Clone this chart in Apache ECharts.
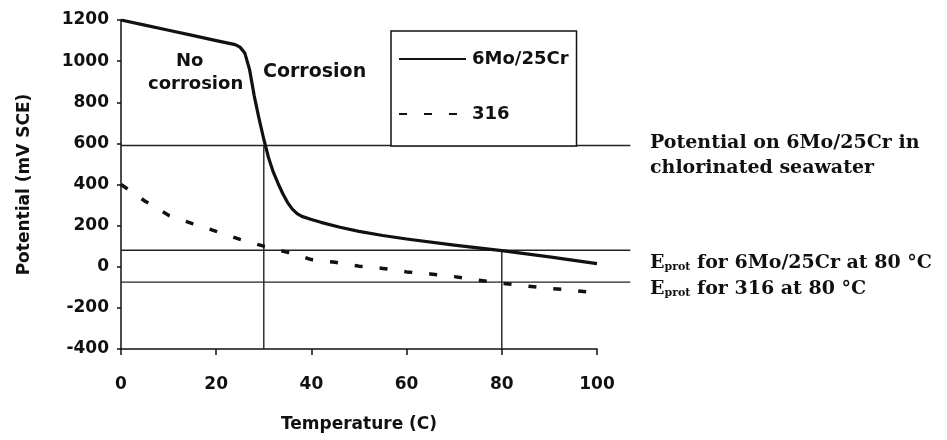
<!DOCTYPE html>
<html>
<head>
<meta charset="utf-8">
<script src="https://cdn.jsdelivr.net/npm/echarts@6/dist/echarts.min.js"></script>
<style>
html,body{margin:0;padding:0;background:#fff;}
#chart{width:947px;height:440px;}
</style>
</head>
<body>
<div id="chart"></div>
<script>
// ---- data ----
const temp6Mo = [0, 5, 10, 15, 20, 24, 25, 26, 27, 28, 29, 30, 31, 32, 33, 34, 35, 36, 37, 38, 40, 42, 46, 50, 55, 60, 70, 80, 90, 100];
const pot6Mo  = [1200, 1175, 1150, 1125, 1100, 1080, 1068, 1040, 960, 830, 720, 620, 530, 460, 405, 355, 312, 280, 258, 245, 230, 216, 192, 172, 152, 135, 105, 78, 48, 15];

const temp316 = [0, 5, 10, 15, 20, 25, 30, 35, 40, 45, 50, 55, 60, 65, 70, 75, 80, 85, 90, 95, 100];
const pot316  = [400, 320, 250, 210, 172, 133, 100, 70, 35, 22, 3, -8, -25, -35, -48, -65, -80, -93, -105, -115, -127];

// horizontal reference levels (mV): seawater potential, Eprot 6Mo/25Cr, Eprot 316
const refLevels = [590, 80, -75];
const refLineStartT = 0;
const refLineEndT = 107;
// vertical reference lines: [temperature, top potential]
const vRefTemps = [30, 80];
const vRefTops = [590, 80];

const xTickValues = [0, 20, 40, 60, 80, 100];
const yTickValues = [-400, -200, 0, 200, 400, 600, 800, 1000, 1200];

const seriesNames = ['6Mo/25Cr', '316'];
const xTitle = 'Temperature (C)';
const yTitle = 'Potential (mV SCE)';

// ---- chart ----
const SANS = '"DejaVu Sans", sans-serif';
const SERIF = '"DejaVu Serif", serif';
const chart = echarts.init(document.getElementById('chart'), null, {renderer: 'canvas'});

const zip = (a, b) => a.map((v, i) => [v, b[i]]);
const refColor = '#222';

const refSeries = [];
vRefTemps.forEach((t, i) => {
  refSeries.push({
    type: 'line', silent: true, clip: false, symbol: 'none', z: 1,
    data: [[t, yTickValues[0]], [t, vRefTops[i]]],
    lineStyle: {color: refColor, width: 1.4}
  });
});

const richE = {
  e: {fontFamily: SERIF, fontWeight: 'bold', fontSize: 19, lineHeight: 24, verticalAlign: 'bottom', fill: '#111'},
  s: {fontFamily: SERIF, fontWeight: 'bold', fontSize: 11, lineHeight: 24, verticalAlign: 'bottom', fill: '#111'}
};

const textGraphics = [
  {type: 'text', left: 176, top: 52, style: {text: 'No', fill: '#111', font: 'bold 18px ' + SANS}},
  {type: 'text', left: 148, top: 75, style: {text: 'corrosion', fill: '#111', font: 'bold 18px ' + SANS}},
  {type: 'text', left: 263, top: 63, style: {text: 'Corrosion', fill: '#111', font: 'bold 19px ' + SANS}},
  {type: 'text', left: 650, top: 131, style: {text: 'Potential on 6Mo/25Cr in\nchlorinated seawater', fill: '#111', font: 'bold 19px ' + SERIF, lineHeight: 25}},
  {type: 'text', left: 650, top: 254, style: {text: '{e|E}{s|prot}{e| for 6Mo/25Cr at 80 °C}', fill: '#111', rich: richE}},
  {type: 'text', left: 650, top: 280, style: {text: '{e|E}{s|prot}{e| for 316 at 80 °C}', fill: '#111', rich: richE}}
];

const option = {
  backgroundColor: '#fff',
  animation: false,
  grid: {left: 121, right: 350, top: 20, bottom: 91, containLabel: false},
  legend: {
    data: seriesNames,
    orient: 'vertical',
    left: 391, top: 31,
    itemWidth: 67, itemHeight: 14, itemGap: 37,
    padding: [19, 8, 23, 7],
    borderColor: '#111', borderWidth: 1.5,
    backgroundColor: '#fff',
    itemStyle: {opacity: 0},
    textStyle: {fontFamily: SANS, fontWeight: 'bold', fontSize: 18, color: '#111', padding: [0, 0, 0, 1]},
    selectedMode: false,
    z: 10
  },
  xAxis: {
    type: 'value', min: 0, max: 100, interval: 20,
    name: xTitle, nameLocation: 'middle', nameGap: 67,
    nameTextStyle: {fontFamily: SANS, fontWeight: 'bold', fontSize: 17, color: '#111'},
    axisLine: {show: true, onZero: false, lineStyle: {color: '#111', width: 1.5}},
    axisTick: {show: true, inside: false, length: 6, lineStyle: {color: '#111', width: 1.5}},
    axisLabel: {fontFamily: SANS, fontWeight: 'bold', fontSize: 17, color: '#111', margin: 27,
      formatter: v => String(v)},
    splitLine: {show: false}
  },
  yAxis: {
    type: 'value', min: -400, max: 1200, interval: 200,
    name: yTitle, nameLocation: 'middle', nameGap: 88, nameRotate: 90,
    nameTextStyle: {fontFamily: SANS, fontWeight: 'bold', fontSize: 17, color: '#111'},
    axisLine: {show: true, onZero: false, lineStyle: {color: '#111', width: 1.5}},
    axisTick: {show: true, inside: false, length: 4, lineStyle: {color: '#111', width: 1.5}},
    axisLabel: {fontFamily: SANS, fontWeight: 'bold', fontSize: 17, color: '#111', margin: 12,
      formatter: v => String(v)},
    splitLine: {show: false}
  },
  series: refSeries.concat([
    {
      name: seriesNames[0], type: 'line', symbol: 'none', z: 5,
      smooth: false,
      data: zip(temp6Mo, pot6Mo),
      lineStyle: {color: '#111', width: 3.2, join: 'round'},
      itemStyle: {color: '#111'}
    },
    {
      name: seriesNames[1], type: 'line', symbol: 'none', z: 5,
      smooth: false,
      data: zip(temp316, pot316),
      lineStyle: {color: '#111', width: 3.5, type: [8, 17], cap: 'butt'},
      itemStyle: {color: '#111'}
    }
  ]),
  graphic: textGraphics
};
chart.setOption(option);

// horizontal reference lines extend past the axis end; place them through the axis scales
const refLineGraphics = refLevels.map(lv => {
  const p0 = chart.convertToPixel({gridIndex: 0}, [refLineStartT, lv]);
  const p1 = chart.convertToPixel({gridIndex: 0}, [refLineEndT, lv]);
  return {
    type: 'line', silent: true, z: 1,
    shape: {x1: p0[0], y1: p0[1], x2: p1[0], y2: p1[1]},
    style: {stroke: refColor, lineWidth: 1.4}
  };
});
chart.setOption({graphic: textGraphics.concat(refLineGraphics)});
</script>
</body>
</html>
